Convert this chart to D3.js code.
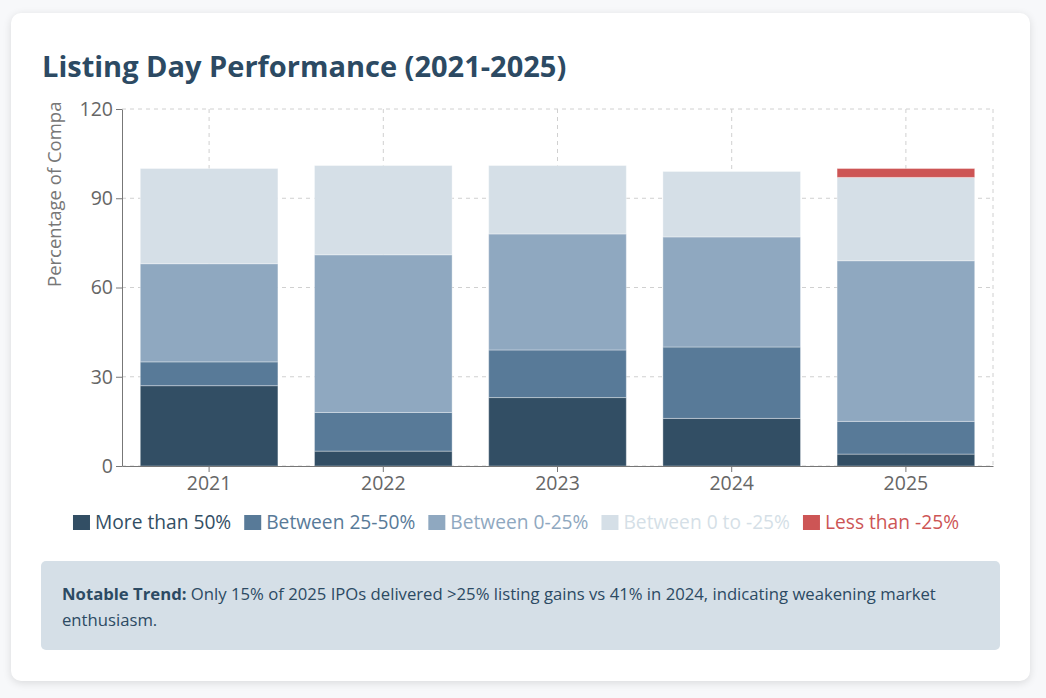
<!DOCTYPE html>
<html>
<head>
<meta charset="utf-8">
<script src="https://cdn.jsdelivr.net/npm/d3@7"></script>
<style>
  body { margin: 0; width: 1046px; height: 698px; background: #f7f8fa; font-family: "Open Sans", "Noto Sans", sans-serif; overflow: hidden; }
  .card { position: absolute; left: 11px; top: 13px; width: 1019px; height: 668px; background: #fff; border-radius: 10px; box-shadow: 0 2px 8px rgba(0,0,0,0.12); }
  h2 { position: absolute; left: 31px; top: 33px; margin: 0; font-size: 29px; font-weight: 700; color: #2c4a63; }
  #chart { position: absolute; left: 0; top: 0; }
  .note { position: absolute; left: 30px; top: 548px; width: 959px; height: 89px; box-sizing: border-box; padding: 20px 21px; background: #d5dfe7; border-radius: 5px; font-size: 16.7px; line-height: 26px; color: #2c4a63; }
</style>
</head>
<body>
<div class="card">
  <h2>Listing Day Performance (2021-2025)</h2>
  <svg id="chart" width="1019" height="540"></svg>
  <div class="note"><b>Notable Trend:</b> Only 15% of 2025 IPOs delivered &gt;25% listing gains vs 41% in 2024, indicating weakening market enthusiasm.</div>
</div>
<script>
const years = ["2021", "2022", "2023", "2024", "2025"];
const moreThan50 = [27, 5, 23, 16, 4];
const between25to50 = [8, 13, 16, 24, 11];
const between0to25 = [33, 53, 39, 37, 54];
const between0toNeg25 = [32, 30, 23, 22, 28];
const lessThanNeg25 = [0, 0, 0, 0, 3];
const seriesNames = ["More than 50%", "Between 25-50%", "Between 0-25%", "Between 0 to -25%", "Less than -25%"];
const colors = ["#324e64", "#587a98", "#8fa8c0", "#d5dfe7", "#cd5555"];
const yTicks = [0, 30, 60, 90, 120];

const series = [moreThan50, between25to50, between0to25, between0toNeg25, lessThanNeg25];
const rows = years.map((yr, i) => {
    const r = {year: yr};
    seriesNames.forEach((n, k) => r[n] = series[k][i]);
    return r;
});
const stacked = d3.stack().keys(seriesNames)(rows);

const svg = d3.select("#chart");
const plot = {left: 111, right: 982, top: 96, bottom: 453};

const x = d3.scaleBand().domain(years).range([plot.left, plot.right]).paddingInner(0.21).paddingOuter(0.105);
const y = d3.scaleLinear().domain([0, 120]).range([plot.bottom, plot.top]);

const grid = svg.append("g").attr("stroke", "#d0d0d0").attr("stroke-dasharray", "4,4");
grid.selectAll(".hg").data(yTicks).enter().append("line")
    .attr("x1", plot.left).attr("x2", plot.right).attr("y1", d => y(d)).attr("y2", d => y(d));
grid.selectAll(".vg").data(years).enter().append("line")
    .attr("x1", d => x(d) + x.bandwidth() / 2).attr("x2", d => x(d) + x.bandwidth() / 2)
    .attr("y1", plot.top).attr("y2", plot.bottom);
grid.append("line").attr("x1", plot.right).attr("x2", plot.right).attr("y1", plot.top).attr("y2", plot.bottom);

svg.append("g").selectAll("g").data(stacked).enter().append("g")
    .attr("fill", (d, i) => colors[i])
  .selectAll("rect").data(d => d).enter().append("rect")
    .attr("x", d => x(d.data.year))
    .attr("width", x.bandwidth())
    .attr("y", d => y(d[1]))
    .attr("height", d => y(d[0]) - y(d[1]))
    .attr("stroke", "rgba(255,255,255,0.35)")
    .attr("stroke-width", 1);

const yAxis = svg.append("g").attr("transform", `translate(${plot.left},0)`)
    .call(d3.axisLeft(y).tickValues(yTicks).tickSizeOuter(0).tickPadding(3));
const xAxis = svg.append("g").attr("transform", `translate(0,${plot.bottom})`)
    .call(d3.axisBottom(x).tickSizeOuter(0).tickPadding(4));
[yAxis, xAxis].forEach(a => {
    a.attr("font-size", null).attr("font-family", null);
    a.select(".domain").attr("stroke", "#777");
    a.selectAll(".tick line").attr("stroke", "#777");
    a.selectAll("text").attr("fill", "#666").style("font-size", "19.5px");
});

// y label is cut off at the top, as in the original
svg.append("clipPath").attr("id", "lblclip").append("rect")
    .attr("x", 0).attr("y", 88).attr("width", 100).attr("height", 400);
svg.append("g").attr("clip-path", "url(#lblclip)")
  .append("text")
    .attr("transform", `translate(50,274) rotate(-90)`)
    .attr("text-anchor", "start")
    .attr("fill", "#777")
    .style("font-size", "18.5px")
    .text("Percentage of Companies (%)");

// legend
const legend = svg.append("g");
let lx = 0;
const items = legend.selectAll("g").data(seriesNames).enter().append("g");
items.each(function(n, i) {
    const g = d3.select(this);
    g.append("rect").attr("width", 17).attr("height", 15).attr("y", -7).attr("fill", colors[i]);
    const t = g.append("text").attr("x", 22).attr("dy", "0.35em").attr("fill", colors[i])
        .style("font-size", "19.2px").text(n);
    const w = 22 + t.node().getComputedTextLength();
    g.attr("transform", `translate(${lx},0)`);
    lx += w + 13;
});
legend.attr("transform", `translate(${505 - (lx - 13) / 2},509)`);
</script>
</body>
</html>
